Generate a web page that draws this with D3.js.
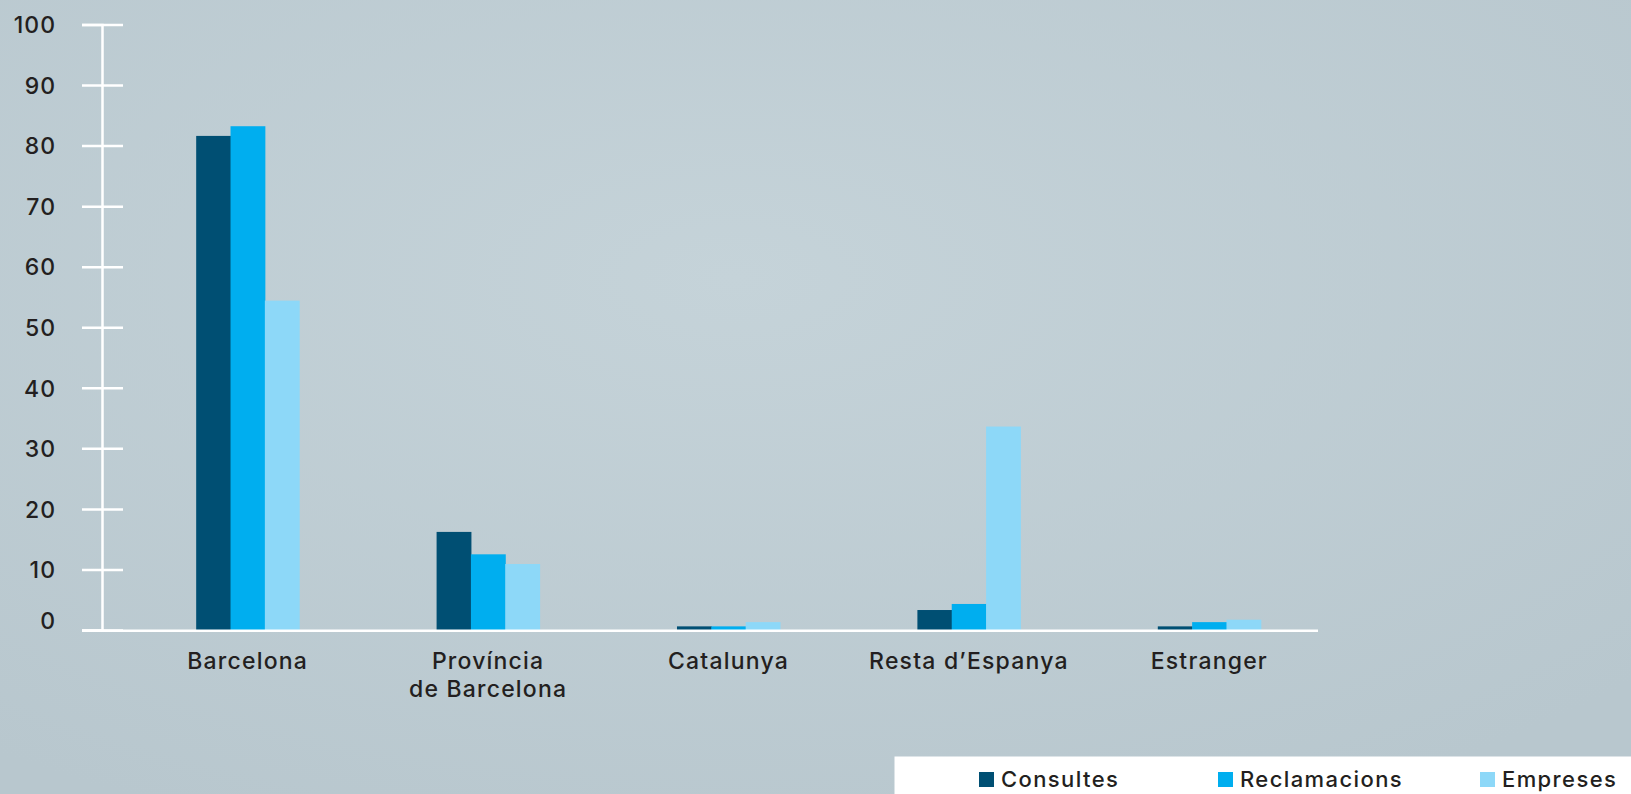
<!DOCTYPE html>
<html>
<head>
<meta charset="utf-8">
<script src="https://cdn.jsdelivr.net/npm/d3@7"></script>
<style>
  body { margin: 0; background: #bfcdd3; overflow: hidden; }
  svg { display: block; }
  text { font-family: Inter, 'Noto Sans', sans-serif; font-weight: 500; }
</style>
</head>
<body>
<div id="chart"></div>
<script>
/* Bar chart: origen de consultes, reclamacions i empreses (%) */

const categories = ["Barcelona", "Província|de Barcelona", "Catalunya", "Resta d’Espanya", "Estranger"];
const seriesNames = ["Consultes", "Reclamacions", "Empreses"];
const consultes = [81.6, 16.2, 0.6, 3.3, 0.6];
const reclamacions = [83.2, 12.5, 0.6, 4.3, 1.3];
const empreses = [54.4, 10.9, 1.3, 33.6, 1.7];
const yTicks = [0, 10, 20, 30, 40, 50, 60, 70, 80, 90, 100];

const colors = ["#004f73", "#00aeef", "#8dd8f8"];

const width = 1631,
      height = 794;

// build rows for the grouped bars
const data = categories.map((c, i) => ({
    cat: c,
    values: [consultes[i], reclamacions[i], empreses[i]]
}));

let svg = d3.select("#chart")
    .append("svg")
    .attr("width", width)
    .attr("height", height);

// soft background, lighter in the middle like the original
let defs = svg.append("defs");
let grad = defs.append("radialGradient")
    .attr("id", "bg")
    .attr("cx", "45%").attr("cy", "35%").attr("r", "75%");
grad.append("stop").attr("offset", "0%").attr("stop-color", "#c5d3d9");
grad.append("stop").attr("offset", "100%").attr("stop-color", "#b8c7ce");

svg.append("rect")
    .attr("width", width)
    .attr("height", height)
    .attr("fill", "url(#bg)");

// x scales
let x0 = d3.scaleBand()
    .domain(categories)
    .range([127.5, 1329.5])
    .paddingInner(0.5715)
    .paddingOuter(0.2857);

let x1 = d3.scaleBand()
    .domain(seriesNames)
    .range([0, x0.bandwidth()])
    .padding(0);

// y scale
let y = d3.scaleLinear()
    .domain([0, 100])
    .range([630, 24.5]);

// bars
let group = svg.selectAll(".group")
    .data(data)
    .join("g")
    .attr("class", "group")
    .attr("transform", d => `translate(${x0(d.cat)},0)`);

group.selectAll("rect")
    .data(d => d.values.map((v, j) => ({ key: seriesNames[j], v: v, j: j })))
    .join("rect")
    .attr("x", d => x1(d.key))
    .attr("width", x1.bandwidth() + 0.5)
    .attr("y", d => y(d.v))
    .attr("height", d => y(0) - y(d.v))
    .attr("fill", d => colors[d.j]);

// y axis
let yAxis = svg.append("g")
    .attr("transform", "translate(102,0)")
    .call(d3.axisLeft(y).tickValues(yTicks).tickSizeOuter(0).tickSize(20));

yAxis.select(".domain")
    .attr("stroke", "white")
    .attr("stroke-width", 2.5);

yAxis.selectAll(".tick line")
    .attr("x1", -20)
    .attr("x2", 21)
    .attr("stroke", "white")
    .attr("stroke-width", 2.5);

yAxis.selectAll(".tick text")
    .attr("x", -46)
    .attr("dy", d => d === 0 ? "-0.05em" : "0.36em")
    .attr("fill", "#231f20")
    .style("font-family", null)
    .style("font-size", "23px")
    .style("letter-spacing", "1px");

// x axis line
let xAxis = svg.append("g")
    .attr("transform", `translate(0,${y(0) + 0.8})`)
    .call(d3.axisBottom(x0).tickSize(0).tickSizeOuter(0));

xAxis.select(".domain").remove();
xAxis.append("line")
    .attr("x1", 82)
    .attr("x2", 1318)
    .attr("stroke", "white")
    .attr("stroke-width", 2.5);

xAxis.selectAll(".tick text").remove();
xAxis.selectAll(".tick")
    .append("text")
    .attr("text-anchor", "middle")
    .attr("fill", "#231f20")
    .style("font-size", "23px")
    .style("letter-spacing", "1.2px")
    .selectAll("tspan")
    .data(d => d.split("|"))
    .join("tspan")
    .attr("x", 0)
    .attr("y", (d, i) => 38 + i * 28)
    .text(d => d);

// legend
let legend = svg.append("g");
legend.append("rect")
    .attr("x", 894.5)
    .attr("y", 756.5)
    .attr("width", width - 894.5)
    .attr("height", height - 756.5)
    .attr("fill", "white");

const legendX = [979, 1218, 1480];
let item = legend.selectAll(".item")
    .data(seriesNames)
    .join("g")
    .attr("class", "item")
    .attr("transform", (d, i) => `translate(${legendX[i]},772)`);

item.append("rect")
    .attr("width", 15)
    .attr("height", 15)
    .attr("fill", (d, i) => colors[i]);

item.append("text")
    .attr("x", 22)
    .attr("y", 15)
    .attr("fill", "#231f20")
    .style("font-size", "22px")
    .style("letter-spacing", "1.4px")
    .text(d => d);
</script>
</body>
</html>
